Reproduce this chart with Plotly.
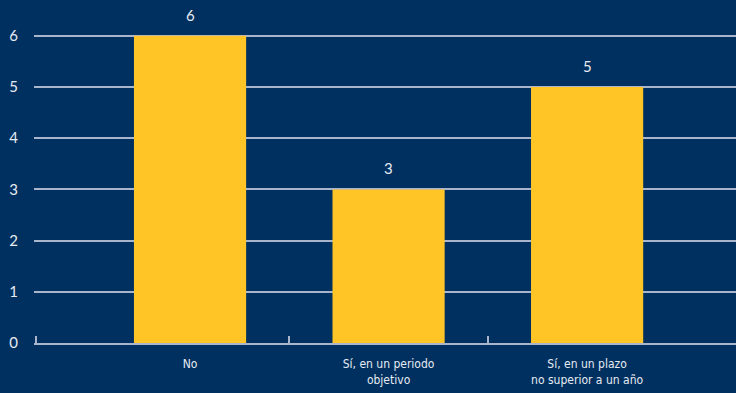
import plotly.graph_objects as go

categories = ["No", "Sí, en un periodo<br>objetivo", "Sí, en un plazo<br>no superior a un año"]
values = [6, 3, 5]
y_ticks = [0, 1, 2, 3, 4, 5, 6]

BG = "#00305F"
BAR = "#FFC425"
GRID = "#A9B5CC"
TXT = "#E6EBF3"

xpos = list(range(len(categories)))

fig = go.Figure()
fig.add_trace(go.Bar(
    x=xpos, y=values, marker=dict(color=BAR, line=dict(width=0)),
    width=0.565, hoverinfo="skip",
))
# invisible trace on overlay axis to show boundary ticks
fig.add_trace(go.Scatter(x=[0.5, 1.5], y=[0, 0], xaxis="x2", mode="markers",
                         marker=dict(opacity=0), hoverinfo="skip", showlegend=False))

for xi, v in zip(xpos, values):
    fig.add_annotation(x=xi, y=v, text=str(v), showarrow=False, yanchor="bottom",
                       yshift=10, font=dict(family="Lato", size=15, color=TXT))

xr = [-0.786, 2.75]
fig.update_layout(
    width=736, height=393,
    margin=dict(l=34, r=0, t=0, b=50),
    paper_bgcolor=BG, plot_bgcolor=BG,
    showlegend=False,
    xaxis=dict(range=xr, tickvals=xpos, ticktext=categories, showgrid=False,
               zeroline=False, showline=True, linecolor=GRID, linewidth=2,
               ticks="", ticklabelstandoff=9,
               tickfont=dict(family="DejaVu Sans Condensed, Liberation Sans Narrow, sans-serif", size=12, color=TXT)),
    xaxis2=dict(range=xr, overlaying="x", tickvals=[xr[0] + 0.012, 0.5, 1.5], ticktext=["", "", ""],
                ticks="inside", ticklen=7, tickwidth=2, tickcolor=GRID, showgrid=False,
                zeroline=False, showline=False, side="bottom", anchor="y"),
    yaxis=dict(range=[0, 6.7], tickvals=y_ticks, showgrid=True, gridcolor=GRID, gridwidth=2,
               zeroline=False, showline=False, ticks="", ticklabelstandoff=15,
               tickfont=dict(family="Lato", size=15, color=TXT)),
)

fig.write_html("out.html")
